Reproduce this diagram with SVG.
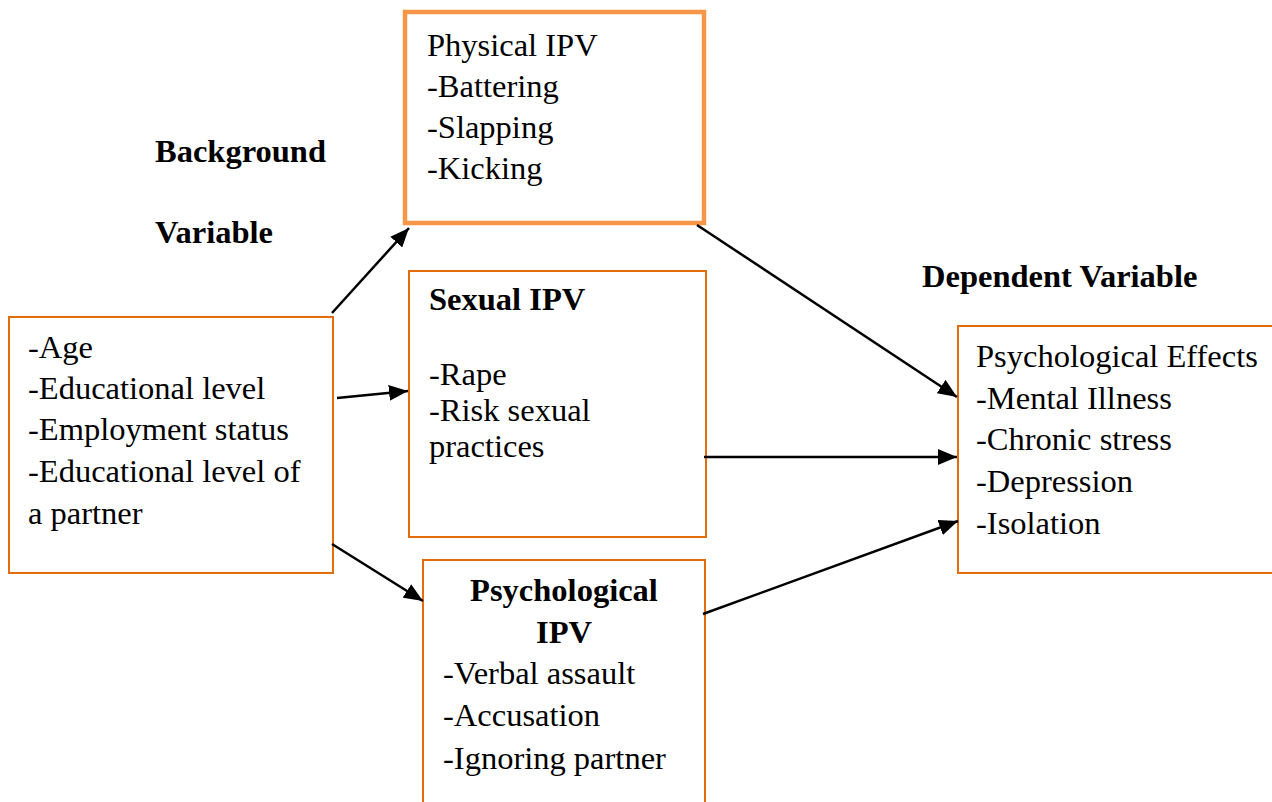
<svg xmlns="http://www.w3.org/2000/svg" width="1272" height="802" viewBox="0 0 1272 802">
<style>
text{font-family:"Liberation Serif","Times New Roman",serif;font-size:32.5px;fill:#000}
.b{font-weight:bold}
.box{fill:#fff;stroke:#E46C0A;stroke-width:2}
.thick{fill:#fff;stroke:#F79646;stroke-width:4.5}
.c{stroke:#000;stroke-width:2.5;fill:none;marker-end:url(#ah)}
</style>
<defs>
<marker id="ah" markerUnits="userSpaceOnUse" markerWidth="20" markerHeight="16" refX="19" refY="8" orient="auto">
<path d="M0,0 L19,8 L0,16 z" fill="#000"/>
</marker>
</defs>
<rect width="1272" height="802" fill="#fff"/>
<g id="label-background">
<text class="b" x="155" y="162">Background</text>
<text class="b" x="155" y="243">Variable</text>
</g>
<g id="label-dependent">
<text class="b" x="922" y="287">Dependent Variable</text>
</g>
<g id="background-box">
<rect class="box" x="9" y="317" width="324" height="256"/>
<text x="28" y="358">-Age</text>
<text x="28" y="399">-Educational level</text>
<text x="28" y="440">-Employment status</text>
<text x="28" y="482">-Educational level of</text>
<text x="28" y="524">a partner</text>
</g>
<g id="physical-ipv">
<rect class="thick" x="405" y="12" width="299" height="211"/>
<text x="427" y="56">Physical IPV</text>
<text x="427" y="97">-Battering</text>
<text x="427" y="138">-Slapping</text>
<text x="427" y="179">-Kicking</text>
</g>
<g id="sexual-ipv">
<rect class="box" x="409" y="271" width="297" height="266"/>
<text class="b" x="429" y="310">Sexual IPV</text>
<text x="429" y="385">-Rape</text>
<text x="429" y="421">-Risk sexual</text>
<text x="429" y="457">practices</text>
</g>
<g id="psychological-ipv">
<rect class="box" x="423" y="560" width="282" height="260"/>
<text class="b" x="564" y="601" text-anchor="middle">Psychological</text>
<text class="b" x="564" y="643" text-anchor="middle">IPV</text>
<text x="443" y="684">-Verbal assault</text>
<text x="443" y="726">-Accusation</text>
<text x="443" y="769">-Ignoring partner</text>
</g>
<g id="psychological-effects">
<rect class="box" x="958" y="326" width="330" height="247"/>
<text x="976" y="367">Psychological Effects</text>
<text x="976" y="409">-Mental Illness</text>
<text x="976" y="450">-Chronic stress</text>
<text x="976" y="492">-Depression</text>
<text x="976" y="534">-Isolation</text>
</g>
<g id="connectors">
<line class="c" x1="332" y1="313" x2="409" y2="228"/>
<line class="c" x1="337" y1="398" x2="408" y2="391"/>
<line class="c" x1="332" y1="544" x2="423" y2="601"/>
<line class="c" x1="697" y1="225" x2="957" y2="397"/>
<line class="c" x1="704" y1="457" x2="957" y2="457"/>
<line class="c" x1="703" y1="614" x2="958" y2="521"/>
</g>
</svg>
